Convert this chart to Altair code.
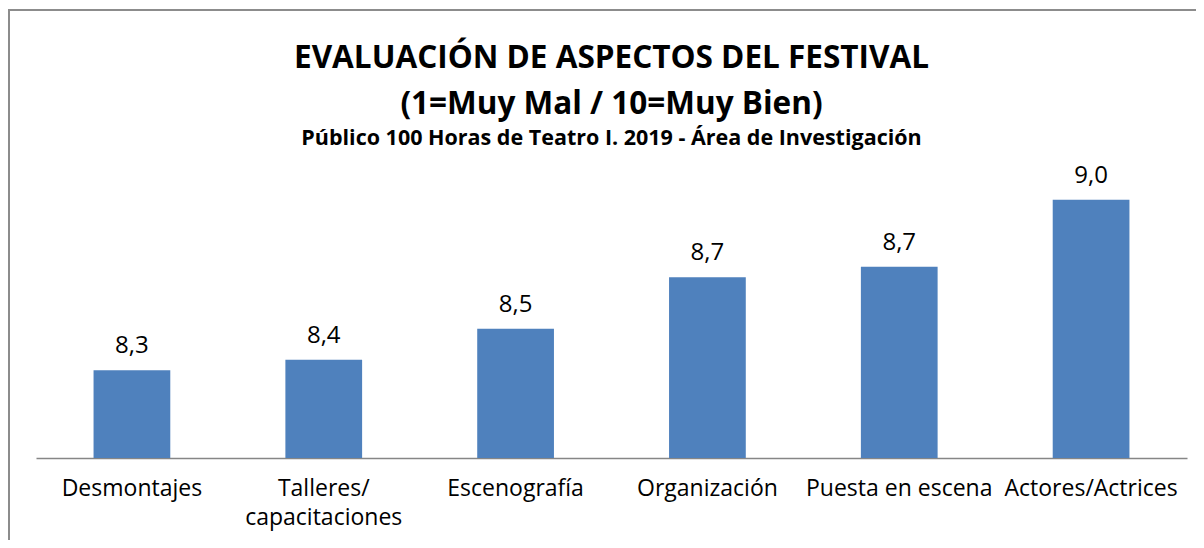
import altair as alt
import pandas as pd

categories = ["Desmontajes", "Talleres/ capacitaciones", "Escenografía",
              "Organización", "Puesta en escena", "Actores/Actrices"]
values = [8.34, 8.38, 8.50, 8.70, 8.74, 9.00]
value_labels = ["8,3", "8,4", "8,5", "8,7", "8,7", "9,0"]

df = pd.DataFrame({"cat": categories, "val": values, "lab": value_labels})

FONT = "Open Sans"
BLUE = "#4f81bd"

x_enc = alt.X("cat:N", sort=categories, title=None,
              scale=alt.Scale(paddingInner=0.6, paddingOuter=0.3),
              axis=alt.Axis(labelAngle=0, labelFont=FONT, labelFontSize=23,
                            labelColor="#000000", labelPadding=19, labelLimit=400,
                            labelLineHeight=29, ticks=False,
                            domainColor="#868686", domainWidth=1.5,
                            labelExpr="split(replace(datum.label, '/ ', '/|'), '|')"))
y_enc = alt.Y("val:Q", title=None, scale=alt.Scale(domain=[8, 9.2], zero=False, nice=False),
              axis=None)

base = alt.Chart(df)
bars = base.mark_bar(color=BLUE, clip=True).encode(x=x_enc, y=y_enc)
texts = base.mark_text(font=FONT, fontSize=24, color="#000000", baseline="alphabetic", dy=-17).encode(
    x=alt.X("cat:N", sort=categories), y="val:Q", text="lab:N")
frame = base.mark_rect(filled=False, stroke="#8c8c8c", strokeWidth=2).encode(
    x=alt.value(-27), x2=alt.value(1200), y=alt.value(-138), y2=alt.value(420))

chart = alt.layer(frame, bars, texts).properties(
    width=1151, height=310,
    autosize=alt.AutoSizeParams(type="none"),
    padding={"left": 28, "top": 140, "right": 9, "bottom": 82},
    title=alt.Title(
        text=["EVALUACIÓN DE ASPECTOS DEL FESTIVAL", "(1=Muy Mal / 10=Muy Bien)"],
        subtitle="Público 100 Horas de Teatro I. 2019 - Área de Investigación",
        font=FONT, fontSize=31.5, fontWeight="bold", color="#000000",
        lineHeight=46, subtitleFont=FONT, subtitleFontSize=21.5,
        subtitleFontWeight="bold", subtitleColor="#000000", subtitlePadding=7,
        anchor="middle", frame="group", offset=-140),
).configure_view(stroke=None)

chart.save("out.html", embed_options={"renderer": "svg", "actions": False})
